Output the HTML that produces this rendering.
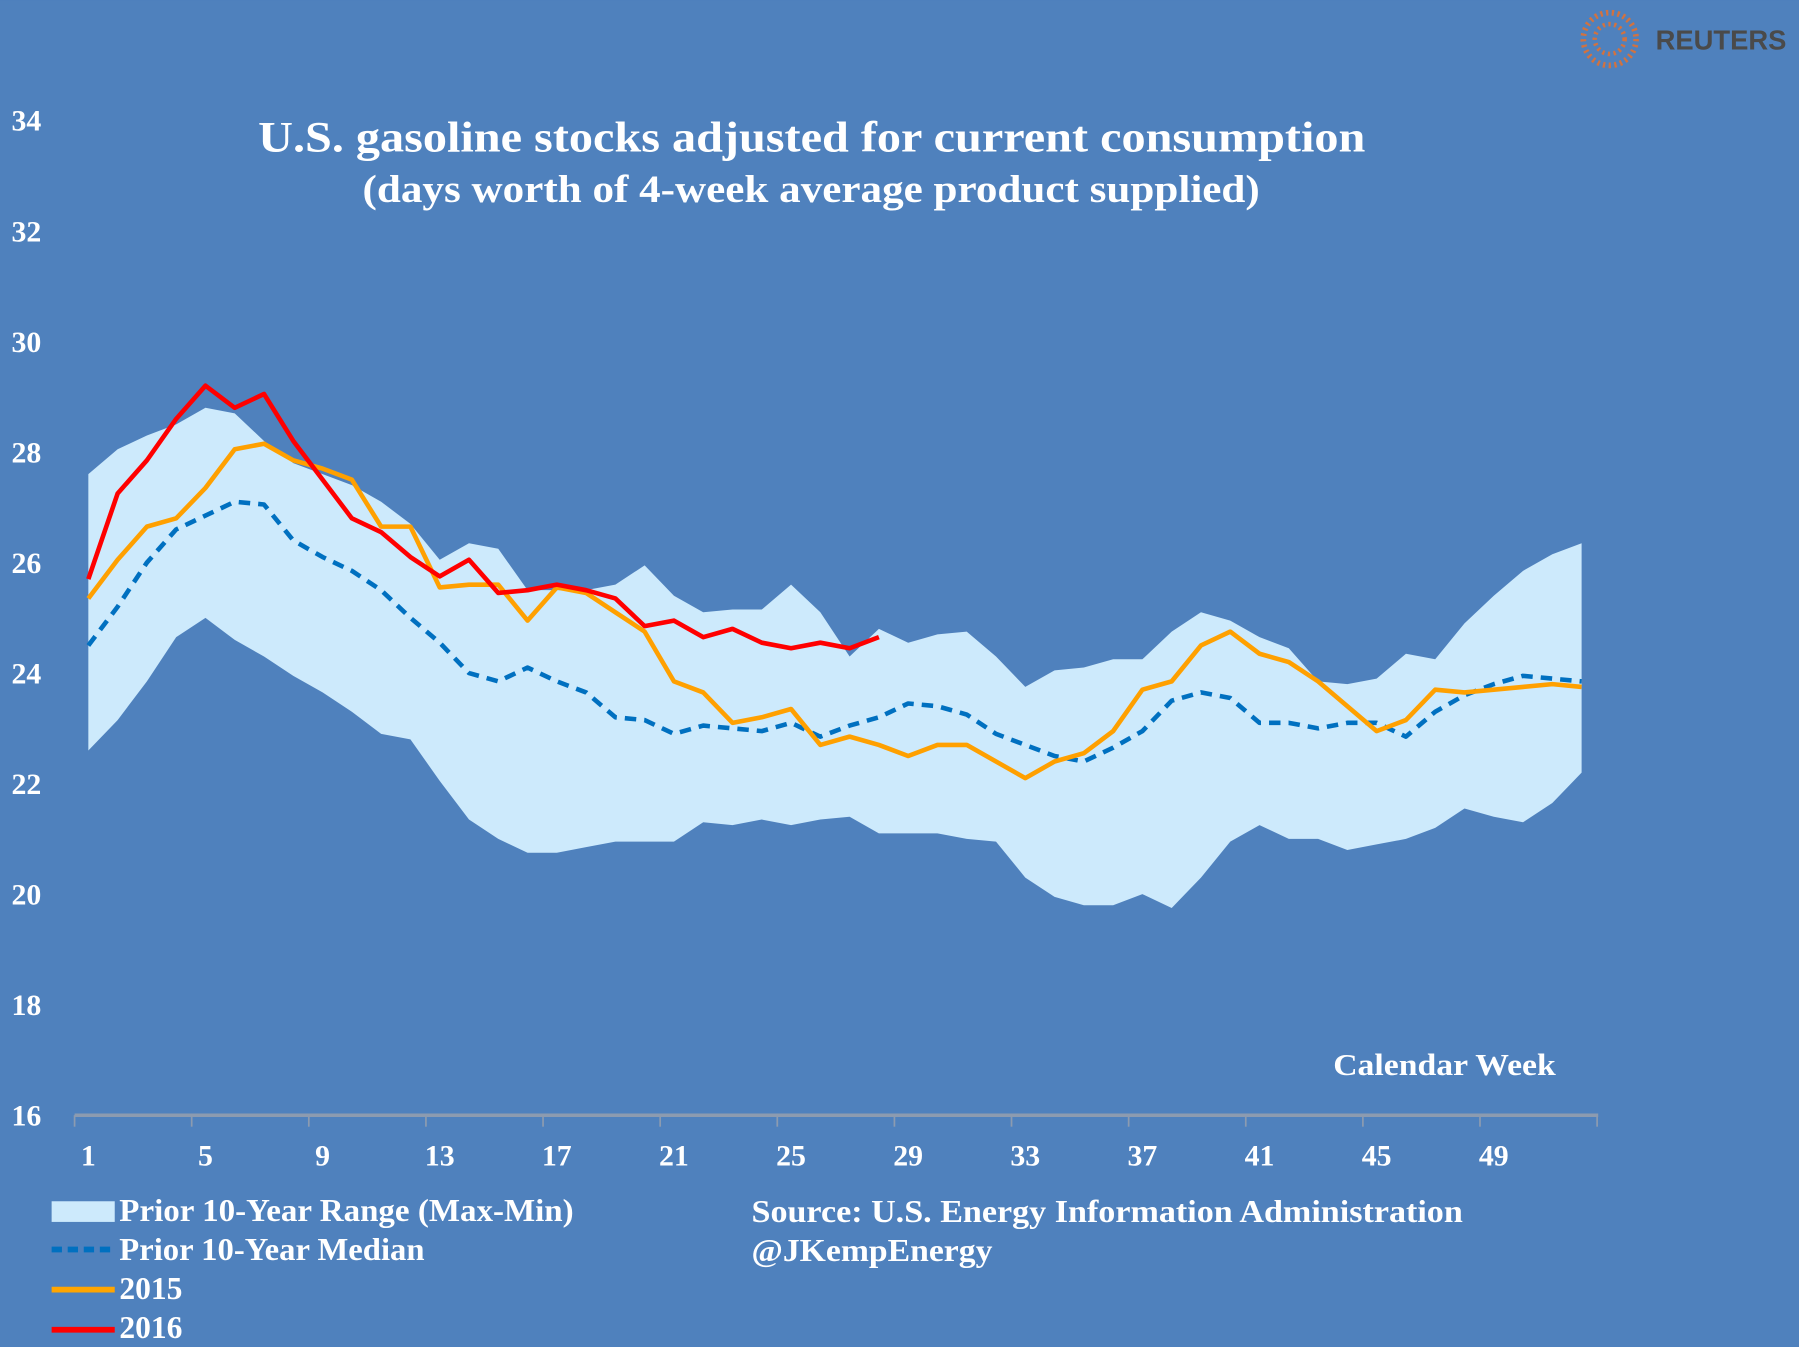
<!DOCTYPE html>
<html><head><meta charset="utf-8"><style>
html,body{margin:0;padding:0;background:#4f81bd;}
svg{display:block;font-family:"Liberation Serif",serif;}
</style></head><body>
<svg id="chart" width="1799" height="1347" viewBox="0 0 1568 1174" xmlns="http://www.w3.org/2000/svg">
<rect width="1568" height="1174" fill="#4f81bd"/>
<g>
<circle cx="1403" cy="34" r="23" fill="none" stroke="#e8702a" stroke-width="5" stroke-dasharray="2 3" opacity="0.85"/>
<circle cx="1403" cy="34" r="13" fill="none" stroke="#e8702a" stroke-width="4" stroke-dasharray="2 3" opacity="0.85"/>
<text x="1443" y="43" font-family="Liberation Sans, sans-serif" font-size="24" font-weight="bold" fill="#4a4a4a" textLength="114" lengthAdjust="spacingAndGlyphs">REUTERS</text>
</g>
<text x="225" y="132" font-size="38" font-weight="bold" fill="#fff" textLength="965" lengthAdjust="spacingAndGlyphs">U.S. gasoline stocks adjusted for current consumption</text>
<text x="316" y="176" font-size="34" font-weight="bold" fill="#fff" textLength="782" lengthAdjust="spacingAndGlyphs">(days worth of  4-week average product supplied)</text>
<g id="yticks"></g>
<g id="xticks"></g>
<g id="plot"></g>
<text x="1162" y="937" font-size="27" font-weight="bold" fill="#fff" textLength="194" lengthAdjust="spacingAndGlyphs">Calendar Week</text>
<g font-size="28" font-weight="bold" fill="#fff">
<g><rect x="45" y="1047" width="55" height="18" fill="#cdeafc"/><text x="104" y="1064" textLength="396" lengthAdjust="spacingAndGlyphs">Prior 10-Year Range (Max-Min)</text></g>
<g><line x1="45" y1="1089" x2="100" y2="1089" stroke="#0070c0" stroke-width="5" stroke-dasharray="9 5"/><text x="104" y="1098" textLength="266" lengthAdjust="spacingAndGlyphs">Prior 10-Year Median</text></g>
<g><line x1="45" y1="1124" x2="100" y2="1124" stroke="#ffa500" stroke-width="5"/><text x="104" y="1132" textLength="55" lengthAdjust="spacingAndGlyphs">2015</text></g>
<g><line x1="45" y1="1159" x2="100" y2="1159" stroke="#ff0000" stroke-width="5"/><text x="104" y="1166" textLength="55" lengthAdjust="spacingAndGlyphs">2016</text></g>
</g>
<text x="655" y="1065" font-size="28" font-weight="bold" fill="#fff" textLength="620" lengthAdjust="spacingAndGlyphs">Source:  U.S. Energy Information Administration</text>
<text x="655" y="1099" font-size="28" font-weight="bold" fill="#fff" textLength="210" lengthAdjust="spacingAndGlyphs">@JKempEnergy</text>
</svg>
<script>
const weeks = Array.from({length:52},(_, i)=>i+1);
const rangeMax = [27.6,28.05,28.3,28.5,28.8,28.7,28.2,27.8,27.6,27.4,27.1,26.7,26.05,26.35,26.25,25.5,25.5,25.5,25.6,25.95,25.4,25.1,25.15,25.15,25.6,25.1,24.3,24.8,24.55,24.7,24.75,24.3,23.75,24.05,24.1,24.25,24.25,24.75,25.1,24.95,24.65,24.45,23.85,23.8,23.9,24.35,24.25,24.9,25.4,25.85,26.15,26.35];
const rangeMin = [22.6,23.15,23.85,24.65,25.0,24.6,24.3,23.95,23.65,23.3,22.9,22.8,22.05,21.35,21.0,20.75,20.75,20.85,20.95,20.95,20.95,21.3,21.25,21.35,21.25,21.35,21.4,21.1,21.1,21.1,21.0,20.95,20.3,19.95,19.8,19.8,20.0,19.75,20.3,20.95,21.25,21.0,21.0,20.8,20.9,21.0,21.2,21.55,21.4,21.3,21.65,22.2];
const median = [24.5,25.2,26.0,26.6,26.85,27.1,27.05,26.4,26.1,25.85,25.5,25.0,24.55,24.0,23.85,24.1,23.85,23.65,23.2,23.15,22.9,23.05,23.0,22.95,23.1,22.85,23.05,23.2,23.45,23.4,23.25,22.9,22.7,22.5,22.4,22.65,22.95,23.5,23.65,23.55,23.1,23.1,23.0,23.1,23.1,22.85,23.3,23.6,23.8,23.95,23.9,23.85];
const y2015 = [25.35,26.05,26.65,26.8,27.35,28.05,28.15,27.85,27.7,27.5,26.65,26.65,25.55,25.6,25.6,24.95,25.55,25.45,25.1,24.75,23.85,23.65,23.1,23.2,23.35,22.7,22.85,22.7,22.5,22.7,22.7,22.4,22.1,22.4,22.55,22.95,23.7,23.85,24.5,24.75,24.35,24.2,23.85,23.4,22.95,23.15,23.7,23.65,23.7,23.75,23.8,23.75];
const y2016 = [25.7,27.25,27.85,28.6,29.2,28.8,29.05,28.2,27.5,26.8,26.55,26.1,25.75,26.05,25.45,25.5,25.6,25.5,25.35,24.85,24.95,24.65,24.8,24.55,24.45,24.55,24.45,24.65];
const yTicks = [16,18,20,22,24,26,28,30,32,34];
const xTicks = [1,5,9,13,17,21,25,29,33,37,41,45,49];

const X = w => 77 + (w-1)*25.52;
const Y = v => 972 - (v-16)*48.17;
const NS = "http://www.w3.org/2000/svg";
function mk(tag, parent, attrs){const e=document.createElementNS(NS,tag);for(const k in attrs)e.setAttribute(k,attrs[k]);parent.appendChild(e);return e;}
const plot = document.getElementById('plot');
const yg = document.getElementById('yticks');
const xg = document.getElementById('xticks');

yTicks.forEach(v=>{
  const t = mk('text', yg, {x:10, y:Y(v)+9, 'font-size':26, 'font-weight':'bold', fill:'#fff'});
  t.textContent = v;
  
  
});
const axis = mk('line', xg, {x1:65, y1:972, x2:1393, y2:972, stroke:'#8c9bb0', 'stroke-width':3});


for(let w=1; w<=53; w+=4){
  const tk = mk('line', xg, {x1:X(w)-12, y1:972, x2:X(w)-12, y2:982, stroke:'#8c9bb0', 'stroke-width':1.5});
  
  
}
xTicks.forEach(w=>{
  const t = mk('text', xg, {x:X(w), y:1016, 'font-size':26, 'font-weight':'bold', fill:'#fff', 'text-anchor':'middle'});
  t.textContent = w;
  
  
});

let d = weeks.map((w,i)=>(i?'L':'M')+X(w)+','+Y(rangeMax[i])).join('');
for(let i=weeks.length-1;i>=0;i--) d += 'L'+X(weeks[i])+','+Y(rangeMin[i]);
const area = mk('path', plot, {d:d+'Z', fill:'#cdeafc'});



function line(vals, color, dash, name){
  const p = mk('polyline', plot, {points: vals.map((v,i)=>X(weeks[i])+','+Y(v)).join(' '), fill:'none', stroke:color, 'stroke-width':4, 'stroke-linejoin':'round'});
  if(dash) p.setAttribute('stroke-dasharray', dash);
  
  
}
line(median, '#0070c0', '10 7', 'median-line');
line(y2015, '#ffa000', null, 'line-2015');
line(y2016, '#ff0000', null, 'line-2016');
</script>
</body></html>
